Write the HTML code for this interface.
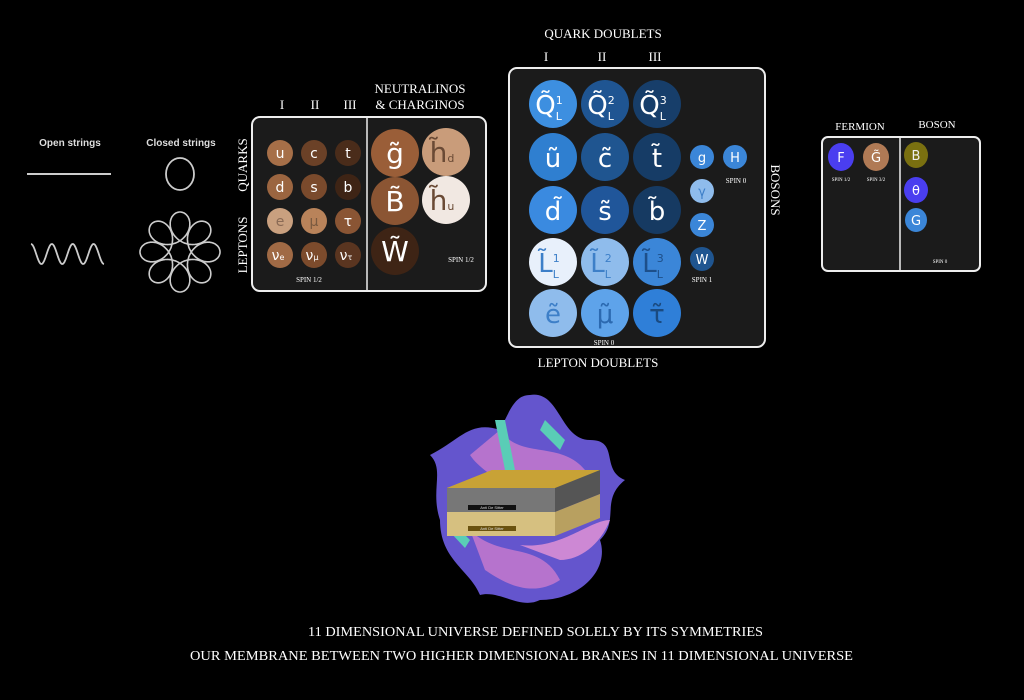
<!DOCTYPE html>
<html><head><meta charset="utf-8"><style>
html,body{margin:0;padding:0;background:#000;}
svg{display:block}
.s{font-family:"Liberation Serif",serif;fill:#fff}
.c{font-family:"DejaVu Sans","Liberation Sans",sans-serif;fill:#fff;text-anchor:middle}
</style></head><body>
<svg width="1024" height="700" viewBox="0 0 1024 700" xmlns="http://www.w3.org/2000/svg">
<rect width="1024" height="700" fill="#000"/>
<!-- strings -->
<text x="70" y="146" font-family="Liberation Sans Narrow,Liberation Sans,sans-serif" font-size="10" font-weight="bold" fill="#ddd" text-anchor="middle">Open strings</text>
<text x="181" y="146" font-family="Liberation Sans Narrow,Liberation Sans,sans-serif" font-size="10" font-weight="bold" fill="#ddd" text-anchor="middle">Closed strings</text>
<line x1="27" y1="174" x2="111" y2="174" stroke="#ccc" stroke-width="2"/>
<path id="wv" fill="none" stroke="#ccc" stroke-width="1.8" d=""/>
<ellipse cx="180" cy="174" rx="14" ry="16" fill="none" stroke="#ccc" stroke-width="1.8"/>
<path id="fl" fill="none" stroke="#ccc" stroke-width="1.6" d=""/>
<script>
(function(){var d="",cx=180,cy=252;for(var i=0;i<=720;i++){var t=i*Math.PI/360;var x=cx+25*Math.cos(t)+15*Math.cos(7*t),y=cy+25*Math.sin(t)-15*Math.sin(7*t);d+=(i?"L":"M")+x.toFixed(1)+" "+y.toFixed(1);}
document.getElementById("fl").setAttribute("d",d);
var w="";for(var j=0;j<=146;j++){var x=31+j*0.5;var y=254-10*Math.sin((x-31)/73*3.5*2*Math.PI+Math.PI/2);w+=(j?"L":"M")+x.toFixed(1)+" "+y.toFixed(1);}
document.getElementById("wv").setAttribute("d",w);})();
</script>
<!-- left box -->
<text class="s" x="420" y="93" font-size="13" text-anchor="middle">NEUTRALINOS</text>
<text class="s" x="420" y="109" font-size="13" text-anchor="middle">&amp; CHARGINOS</text>
<text class="s" x="282" y="109" font-size="13" text-anchor="middle">I</text>
<text class="s" x="315" y="109" font-size="13" text-anchor="middle">II</text>
<text class="s" x="350" y="109" font-size="13" text-anchor="middle">III</text>
<text class="s" font-size="13" text-anchor="middle" transform="translate(247,165) rotate(-90)">QUARKS</text>
<text class="s" font-size="13" text-anchor="middle" transform="translate(247,245) rotate(-90)">LEPTONS</text>
<rect x="252" y="117" width="234" height="174" rx="8" fill="#1b1b1b" stroke="#eee" stroke-width="2"/>
<line x1="367" y1="118" x2="367" y2="290" stroke="#eee" stroke-width="1.5"/>
<g font-size="14">
<circle cx="280" cy="153" r="13" fill="#a66f48"/><text class="c" x="280" y="158">u</text>
<circle cx="314" cy="153" r="13" fill="#6b4127"/><text class="c" x="314" y="158">c</text>
<circle cx="348" cy="153" r="13" fill="#4a2c1a"/><text class="c" x="348" y="158">t</text>
<circle cx="280" cy="187" r="13" fill="#9b6540"/><text class="c" x="280" y="192">d</text>
<circle cx="314" cy="187" r="13" fill="#7a4a2c"/><text class="c" x="314" y="192">s</text>
<circle cx="348" cy="187" r="13" fill="#3e2415"/><text class="c" x="348" y="192">b</text>
<circle cx="280" cy="221" r="13" fill="#c9a07f"/><text class="c" x="280" y="226" style="fill:#8a6a55">e</text>
<circle cx="314" cy="221" r="13" fill="#b9835a"/><text class="c" x="314" y="226" style="fill:#7a5a40">μ</text>
<circle cx="348" cy="221" r="13" fill="#8a5534"/><text class="c" x="348" y="226">τ</text>
<circle cx="280" cy="255" r="13" fill="#a06a45"/><text class="c" x="278" y="260">ν<tspan font-size="8">e</tspan></text>
<circle cx="314" cy="255" r="13" fill="#7c4b2c"/><text class="c" x="312" y="260">ν<tspan font-size="8">μ</tspan></text>
<circle cx="348" cy="255" r="13" fill="#5a3520"/><text class="c" x="346" y="260">ν<tspan font-size="8">τ</tspan></text>
</g>
<g font-size="28">
<circle cx="395" cy="153" r="24" fill="#9a5e38"/><text class="c" x="395" y="163">g̃</text>
<circle cx="446" cy="152" r="24" fill="#c99c7a"/><text class="c" x="442" y="162" style="fill:#6a4a35">h̃<tspan font-size="11">d</tspan></text>
<circle cx="395" cy="201" r="24" fill="#8b5533"/><text class="c" x="395" y="211">B̃</text>
<circle cx="446" cy="200" r="24" fill="#f1e8e2"/><text class="c" x="442" y="210" style="fill:#6a4a35">h̃<tspan font-size="11">u</tspan></text>
<circle cx="395" cy="251" r="24" fill="#3e2415"/><text class="c" x="395" y="261">W̃</text>
</g>
<text class="s" x="309" y="282" font-size="7" text-anchor="middle">SPIN 1/2</text>
<text class="s" x="461" y="262" font-size="7" text-anchor="middle">SPIN 1/2</text>
<!-- middle box -->
<text class="s" x="603" y="38" font-size="13" text-anchor="middle">QUARK DOUBLETS</text>
<text class="s" x="546" y="61" font-size="13" text-anchor="middle">I</text>
<text class="s" x="602" y="61" font-size="13" text-anchor="middle">II</text>
<text class="s" x="655" y="61" font-size="13" text-anchor="middle">III</text>
<text class="s" x="598" y="367" font-size="13" text-anchor="middle">LEPTON DOUBLETS</text>
<text class="s" font-size="13" text-anchor="middle" transform="translate(771,190) rotate(90)">BOSONS</text>
<rect x="509" y="68" width="256" height="279" rx="8" fill="#1b1b1b" stroke="#eee" stroke-width="2"/>
<g font-size="26">
<circle cx="553" cy="104" r="24" fill="#3d8fe0"/><text class="c" x="549" y="114">Q̃<tspan font-size="11" dy="-10">1</tspan><tspan font-size="11" dx="-7" dy="16">L</tspan></text>
<circle cx="605" cy="104" r="24" fill="#1f5592"/><text class="c" x="601" y="114">Q̃<tspan font-size="11" dy="-10">2</tspan><tspan font-size="11" dx="-7" dy="16">L</tspan></text>
<circle cx="657" cy="104" r="24" fill="#173e6a"/><text class="c" x="653" y="114">Q̃<tspan font-size="11" dy="-10">3</tspan><tspan font-size="11" dx="-7" dy="16">L</tspan></text>
<circle cx="553" cy="157" r="24" fill="#2f7fd0"/><text class="c" x="553" y="167">ũ</text>
<circle cx="605" cy="157" r="24" fill="#1f5590"/><text class="c" x="605" y="167">c̃</text>
<circle cx="657" cy="157" r="24" fill="#163c66"/><text class="c" x="657" y="167">t̃</text>
<circle cx="553" cy="210" r="24" fill="#3a8ae0"/><text class="c" x="553" y="220">d̃</text>
<circle cx="605" cy="210" r="24" fill="#20569a"/><text class="c" x="605" y="220">s̃</text>
<circle cx="657" cy="210" r="24" fill="#163a62"/><text class="c" x="657" y="220">b̃</text>
<circle cx="553" cy="262" r="24" fill="#e8f0fb"/><text class="c" x="549" y="272" style="fill:#3d7fc8">L̃<tspan font-size="11" dy="-10">1</tspan><tspan font-size="11" dx="-7" dy="16">L</tspan></text>
<circle cx="605" cy="262" r="24" fill="#8fbcec"/><text class="c" x="601" y="272" style="fill:#3d7fc8">L̃<tspan font-size="11" dy="-10">2</tspan><tspan font-size="11" dx="-7" dy="16">L</tspan></text>
<circle cx="657" cy="262" r="24" fill="#3b86d8"/><text class="c" x="653" y="272" style="fill:#1d4f8a">L̃<tspan font-size="11" dy="-10">3</tspan><tspan font-size="11" dx="-7" dy="16">L</tspan></text>
<circle cx="553" cy="313" r="24" fill="#8fbcec"/><text class="c" x="553" y="323" style="fill:#3d7fc8">ẽ</text>
<circle cx="605" cy="313" r="24" fill="#5ea3ea"/><text class="c" x="605" y="323" style="fill:#2b69b0">μ̃</text>
<circle cx="657" cy="313" r="24" fill="#2f7fd8"/><text class="c" x="657" y="323" style="fill:#1a4a80">τ̃</text>
</g>
<g font-size="13">
<circle cx="702" cy="157" r="12" fill="#3b86d8"/><text class="c" x="702" y="162">g</text>
<circle cx="735" cy="157" r="12" fill="#3b86d8"/><text class="c" x="735" y="162">H</text>
<circle cx="702" cy="191" r="12" fill="#8fbcec"/><text class="c" x="702" y="196" style="fill:#3d7fc8">γ</text>
<circle cx="702" cy="225" r="12" fill="#3b86d8"/><text class="c" x="702" y="230">Z</text>
<circle cx="702" cy="259" r="12" fill="#1f5590"/><text class="c" x="702" y="264">W</text>
</g>
<text class="s" x="736" y="183" font-size="7" text-anchor="middle">SPIN 0</text>
<text class="s" x="702" y="282" font-size="7" text-anchor="middle">SPIN 1</text>
<text class="s" x="604" y="345" font-size="7" text-anchor="middle">SPIN 0</text>
<!-- right box -->
<text class="s" x="860" y="130" font-size="11" text-anchor="middle">FERMION</text>
<text class="s" x="937" y="128" font-size="11" text-anchor="middle">BOSON</text>
<rect x="822" y="137" width="158" height="134" rx="6" fill="#1b1b1b" stroke="#eee" stroke-width="2"/>
<line x1="900" y1="138" x2="900" y2="270" stroke="#eee" stroke-width="1.5"/>
<g font-size="13">
<ellipse cx="841" cy="157" rx="13" ry="14" fill="#4a3ef0"/><text class="c" x="841" y="162">F</text>
<ellipse cx="876" cy="157" rx="13" ry="14" fill="#b07a55"/><text class="c" x="876" y="162">G̃</text>
<ellipse cx="916" cy="155" rx="12" ry="13" fill="#7a7010"/><text class="c" x="916" y="160" style="fill:#eee">B</text>
<ellipse cx="916" cy="190" rx="12" ry="13" fill="#4a3ef0"/><text class="c" x="916" y="195">θ</text>
<ellipse cx="916" cy="220" rx="11" ry="12" fill="#3b86d8"/><text class="c" x="916" y="225">G</text>
</g>
<text class="s" x="841" y="181" font-size="5" text-anchor="middle">SPIN 1/2</text>
<text class="s" x="876" y="181" font-size="5" text-anchor="middle">SPIN 3/2</text>
<text class="s" x="940" y="263" font-size="5" text-anchor="middle">SPIN 0</text>
<!-- bottom figure -->
<g opacity="0.95">
<path d="M530 395 C560 390,560 440,590 440 C620 440,600 470,625 480 C600 500,620 520,600 540 C610 570,580 600,540 600 C520 610,500 590,480 595 C470 570,440 560,440 520 C430 490,445 470,430 455 C460 440,470 420,500 430 C510 410,515 395,530 395 Z" fill="#6a5ad8"/>
<path d="M500 430 C520 460,560 440,585 470 C560 490,540 470,520 495 C500 480,480 470,470 455 Z" fill="#c07ad8"/>
<path d="M470 530 C500 560,540 540,560 580 C530 600,500 580,485 570 Z" fill="#c07ad8"/>
<path d="M520 545 C560 550,590 520,610 520 C600 545,580 560,560 560 Z" fill="#d890e0"/>
<path d="M495 420 L505 470 L515 470 L505 420 Z" fill="#5fd8c0"/>
<path d="M545 420 L565 440 L560 450 L540 430 Z" fill="#5fd8c0"/>
<path d="M455 525 L470 540 L465 548 L450 532 Z" fill="#5fd8c0"/>
</g>
<polygon points="447,488 492,470 600,470 600,484 555,502 447,502" fill="#c9a43a"/>
<polygon points="447,488 555,488 600,470 492,470" fill="#c8a236"/>
<rect x="447" y="488" width="108" height="24" fill="#777"/>
<polygon points="555,488 600,470 600,494 555,512" fill="#555"/>
<rect x="447" y="512" width="108" height="24" fill="#d6c080"/>
<polygon points="555,512 600,494 600,518 555,536" fill="#b8a060"/>
<rect x="468" y="505" width="48" height="5" fill="#111"/>
<text x="492" y="509" font-family="Liberation Sans,sans-serif" font-size="4" fill="#ddd" text-anchor="middle">Anti De Sitter</text>
<rect x="468" y="526" width="48" height="5" fill="#6a5210"/>
<text x="492" y="530" font-family="Liberation Sans,sans-serif" font-size="4" fill="#ddd" text-anchor="middle">Anti De Sitter</text>
<text class="s" x="308" y="636" font-size="14" textLength="455" lengthAdjust="spacingAndGlyphs">11 DIMENSIONAL UNIVERSE DEFINED SOLELY BY ITS SYMMETRIES</text>
<text class="s" x="190" y="660" font-size="14" textLength="663" lengthAdjust="spacingAndGlyphs">OUR MEMBRANE BETWEEN TWO HIGHER DIMENSIONAL BRANES IN 11 DIMENSIONAL UNIVERSE</text>
</svg>
</body></html>
